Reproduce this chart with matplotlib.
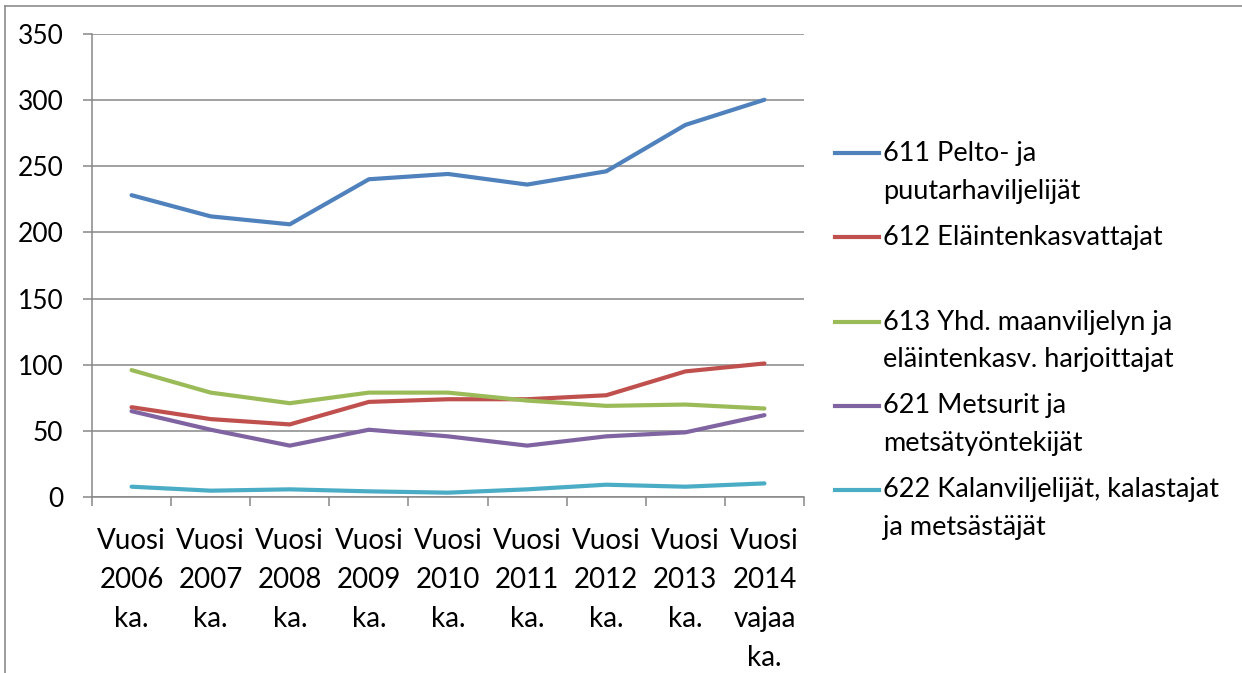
import matplotlib
matplotlib.use("Agg")
import matplotlib.pyplot as plt
from matplotlib.lines import Line2D
import numpy as np

# ---- data ----
categories = ["Vuosi\n2006\nka.", "Vuosi\n2007\nka.", "Vuosi\n2008\nka.",
              "Vuosi\n2009\nka.", "Vuosi\n2010\nka.", "Vuosi\n2011\nka.",
              "Vuosi\n2012\nka.", "Vuosi\n2013\nka.", "Vuosi\n2014\nvajaa\nka."]
s611 = [228, 212, 206, 240, 244, 236, 246, 281, 300]
s612 = [68, 59, 55, 72, 74, 74, 77, 95, 101]
s613 = [96, 79, 71, 79, 79, 73, 69, 70, 67]
s621 = [65, 51, 39, 51, 46, 39, 46, 49, 62]
s622 = [8, 5, 6, 4.5, 3.5, 6, 9.5, 8, 10.5]
series = [s611, s612, s613, s621, s622]
series_labels = ["611 Pelto- ja\npuutarhaviljelijät",
                 "612 Eläintenkasvattajat",
                 "613 Yhd. maanviljelyn ja\neläintenkasv. harjoittajat",
                 "621 Metsurit ja\nmetsätyöntekijät",
                 "622 Kalanviljelijät, kalastajat\nja metsästäjät"]
colors = ["#4F81BD", "#C0504D", "#9BBB59", "#8064A2", "#4BACC6"]
yticks = [0, 50, 100, 150, 200, 250, 300, 350]

# ---- layout ----
W, H = 1242, 673
GRID = "#878787"
fig = plt.figure(figsize=(W / 100, H / 100), dpi=100)
fig.patch.set_facecolor("white")

ax = fig.add_axes([92 / W, 1 - 497.3 / H, (804 - 92) / W, (497.3 - 33.5) / H])
x = np.arange(len(categories))
lines = []
for vals, c in zip(series, colors):
    ln, = ax.plot(x, vals, color=c, lw=3.0, solid_joinstyle="round",
                  solid_capstyle="round", zorder=3)
    lines.append(ln)

ax.set_xlim(-0.5, len(categories) - 0.5)
ax.set_ylim(0, 350)
ax.set_yticks(yticks)
ax.set_yticklabels([str(v) for v in yticks], fontfamily=["Lato", "DejaVu Sans"],
                   fontsize=19)
ax.yaxis.grid(True, color=GRID, lw=1.1)
ax.set_axisbelow(True)
for s in ["top", "right"]:
    ax.spines[s].set_visible(False)
for s in ["left", "bottom"]:
    ax.spines[s].set_color(GRID)
    ax.spines[s].set_linewidth(1.1)
ax.tick_params(axis="y", length=6.5, width=1.1, color=GRID, pad=14)

ax.set_xticks(x)
ax.set_xticklabels(categories, fontfamily=["Liberation Sans Narrow", "Lato", "DejaVu Sans"],
                   fontsize=20, linespacing=1.62)
ax.set_xticks(np.arange(-0.5, len(categories), 1), minor=True)
ax.tick_params(axis="x", which="major", length=0, pad=22)
ax.tick_params(axis="x", which="minor", length=6.5, width=1.1, color=GRID)

# ---- legend (drawn manually to match layout) ----
leg_y = [153, 237, 322, 406, 490]
for ln, lab, yy in zip(lines, series_labels, leg_y):
    fig.add_artist(Line2D([835 / W, 879 / W], [1 - yy / H, 1 - yy / H],
                          transform=fig.transFigure, color=ln.get_color(), lw=3.0))
    for k, part in enumerate(lab.split("\n")):
        fig.text(883 / W, 1 - (yy + 38 * k) / H, part, fontsize=19.5,
                 fontfamily=["Lato", "DejaVu Sans"], va="center", ha="left")

# ---- chart-area frame (partially visible) ----
fig.add_artist(Line2D([5 / W, 1.0], [1 - 6 / H, 1 - 6 / H], transform=fig.transFigure,
                      color="#8c8c8c", lw=1.2))
fig.add_artist(Line2D([5 / W, 5 / W], [0.0, 1 - 6 / H], transform=fig.transFigure,
                      color="#8c8c8c", lw=1.2))

fig.savefig("out.png", dpi=100)
